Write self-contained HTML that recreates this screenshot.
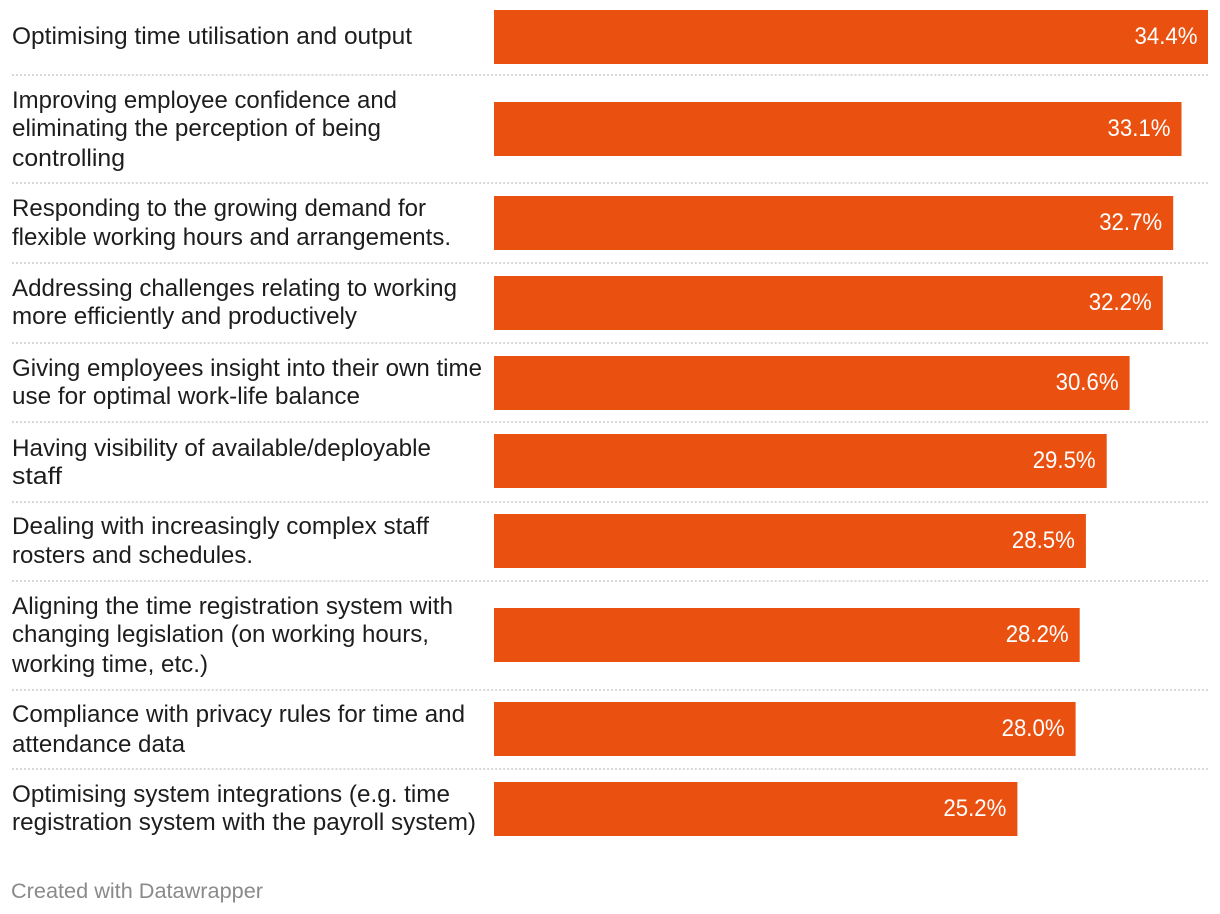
<!DOCTYPE html>
<html lang="en">
<head>
<meta charset="utf-8">
<title>Time registration challenges</title>
<style>
html,body{margin:0;padding:0;background:#fff;width:1220px;height:914px;overflow:hidden}
svg{display:block;font-family:"Liberation Sans",sans-serif}
</style>
</head>
<body>
<svg id="chart" width="1220" height="914" viewBox="0 0 1220 914" xmlns="http://www.w3.org/2000/svg">
<text x="11" y="898" font-size="21.6" fill="#8a8a8a" textLength="252" lengthAdjust="spacingAndGlyphs">Created with Datawrapper</text>
</svg>
<script>
var categoryLines = [
  ["Optimising time utilisation and output"],
  ["Improving employee confidence and","eliminating the perception of being","controlling"],
  ["Responding to the growing demand for","flexible working hours and arrangements."],
  ["Addressing challenges relating to working","more efficiently and productively"],
  ["Giving employees insight into their own time","use for optimal work-life balance"],
  ["Having visibility of available/deployable","staff"],
  ["Dealing with increasingly complex staff","rosters and schedules."],
  ["Aligning the time registration system with","changing legislation (on working hours,","working time, etc.)"],
  ["Compliance with privacy rules for time and","attendance data"],
  ["Optimising system integrations (e.g. time","registration system with the payroll system)"]
];
var values = [34.4,33.1,32.7,32.2,30.6,29.5,28.5,28.2,28.0,25.2];

var svg = document.getElementById('chart');
var NS = 'http://www.w3.org/2000/svg';
var BAR_X0 = 494, PX_PER_UNIT = 20.77, BAR_H = 54;
var BAR_NUDGE = [0,0,0,0,1,-1,-1,0,0,0];
var LINE_OFFSETS = [[34],[6,34,64],[20,49],[20,48],[20,48],[22,50],[20,49],[6,34,64],[20,50],[20,48]];
var FIT = {
  "Optimising time utilisation and output":400,"Improving employee confidence and":385,
  "eliminating the perception of being":369,"controlling":113,
  "Responding to the growing demand for":414,"flexible working hours and arrangements.":439,
  "Addressing challenges relating to working":445,"more efficiently and productively":345,
  "Giving employees insight into their own time":470,"use for optimal work-life balance":348,
  "Having visibility of available/deployable":419,"staff":50,
  "Dealing with increasingly complex staff":417,"rosters and schedules.":241,
  "Aligning the time registration system with":441,"changing legislation (on working hours,":417,
  "working time, etc.)":196,"Compliance with privacy rules for time and":453,
  "attendance data":173,"Optimising system integrations (e.g. time":438,
  "registration system with the payroll system)":464
};
function xScale(v){ return BAR_X0 + v*PX_PER_UNIT; }
function rowHeight(n){ return n===1 ? 75 : (n===2 ? 79.6 : 108.3); }

var top0 = 0;
categoryLines.forEach(function(lines,i){
  var h = rowHeight(lines.length);
  var center = i===0 ? 37 : top0 + h/2;
  var barY = Math.round(center - BAR_H/2) + BAR_NUDGE[i];

  var group = document.createElementNS(NS,'g');
  
  
  svg.appendChild(group);

  lines.forEach(function(line,j){
    var t = document.createElementNS(NS,'text');
    t.setAttribute('x', 12);
    t.setAttribute('y', barY + LINE_OFFSETS[i][j]);
    t.setAttribute('font-size', 24);
    t.setAttribute('fill', '#1d1d1d');
    t.setAttribute('textLength', FIT[line]);
    t.setAttribute('lengthAdjust', 'spacingAndGlyphs');
    
    
    t.textContent = line;
    group.appendChild(t);
  });

  var bar = document.createElementNS(NS,'rect');
  bar.setAttribute('x', BAR_X0);
  bar.setAttribute('y', barY);
  bar.setAttribute('width', Math.min(xScale(values[i])-BAR_X0, 714).toFixed(1));
  bar.setAttribute('height', BAR_H);
  bar.setAttribute('fill', '#ea500f');
  
  
  group.appendChild(bar);

  var val = document.createElementNS(NS,'text');
  val.setAttribute('x', (xScale(values[i])-11).toFixed(1));
  val.setAttribute('y', barY+34);
  val.setAttribute('font-size', 24);
  val.setAttribute('fill', '#ffffff');
  val.setAttribute('text-anchor', 'end');
  val.setAttribute('textLength', 63);
  val.setAttribute('lengthAdjust', 'spacingAndGlyphs');
  
  
  val.textContent = values[i].toFixed(1) + '%';
  group.appendChild(val);

  top0 += h;
  if(i < categoryLines.length-1){
    var sep = document.createElementNS(NS,'line');
    var sy = Math.round(top0);
    sep.setAttribute('x1', 12);
    sep.setAttribute('x2', 1208);
    sep.setAttribute('y1', sy);
    sep.setAttribute('y2', sy);
    sep.setAttribute('stroke', '#d8d8d8');
    sep.setAttribute('stroke-width', 2);
    sep.setAttribute('stroke-dasharray', '2 1.993');
    
    
    svg.appendChild(sep);
  }
});
</script>
</body>
</html>
